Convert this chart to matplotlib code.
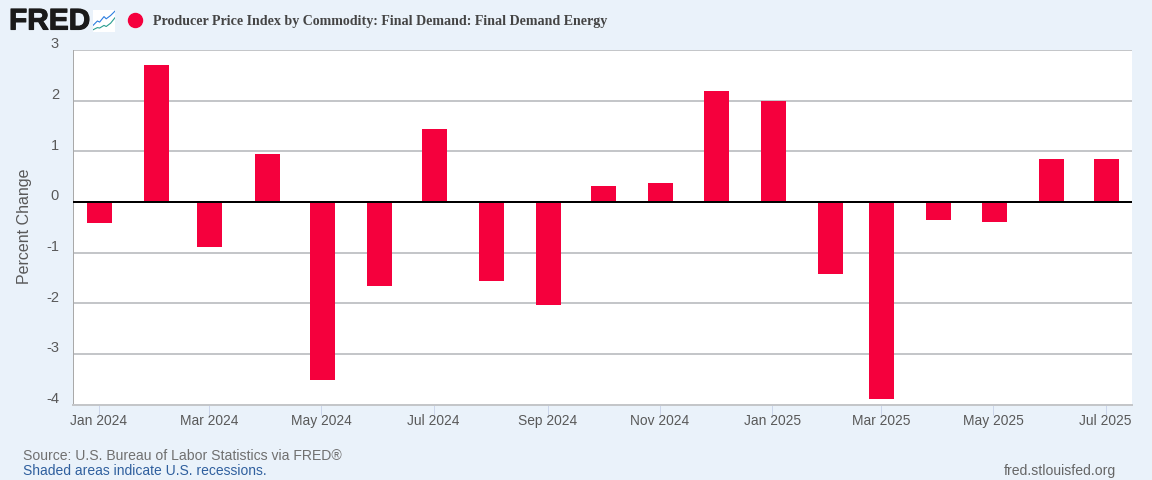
import matplotlib
matplotlib.use("Agg")
import matplotlib.pyplot as plt
import matplotlib.dates as mdates
import matplotlib.patheffects as pe
from matplotlib.transforms import ScaledTranslation
import pandas as pd

plt.rcParams['font.family'] = ['Liberation Sans', 'DejaVu Sans']

months = pd.date_range('2024-01-01', '2025-07-01', freq='MS')
values = [-0.41, 2.70, -0.89, 0.95, -3.51, -1.66, 1.44, -1.56, -2.03, 0.32,
          0.37, 2.19, 1.99, -1.42, -3.89, -0.36, -0.39, 0.85, 0.85]
y_ticks = [-4, -3, -2, -1, 0, 1, 2, 3]
x_tick_dates = pd.date_range('2024-01-01', '2025-07-01', freq='2MS')
title = 'Producer Price Index by Commodity: Final Demand: Final Demand Energy'

W, H = 1152, 480
BG = '#eaf2fa'
RED = '#f5003d'
TXT = '#595959'
PX = 0.72  # one pixel in points at dpi 100

fig = plt.figure(figsize=(W / 100, H / 100), dpi=100, facecolor=BG)
ax = fig.add_axes([73 / W, 1 - 404.5 / H, (1132 - 73) / W, (404.5 - 50) / H])

x = mdates.date2num(months)
px_per_day = (1105.5 - 98.5) / (x[-1] - x[0])
# bars sit about a pixel right of their ticks in the original
ax.bar(x + 1.0 / px_per_day, values, width=25 / px_per_day, color=RED, zorder=3)

ax.set_xlim(x[0] - 25.5 / px_per_day, x[0] + (1132 - 98.5) / px_per_day)
ax.set_ylim(-4, 3)

ax.set_yticks(y_ticks)
ax.set_yticklabels([str(v) for v in y_ticks], fontsize=10.5, color=TXT)
ax.tick_params(axis='y', length=0, pad=14 * PX)
up = ScaledTranslation(0, 5.5 / 100, fig.dpi_scale_trans)
for lab in ax.get_yticklabels():
    lab.set_verticalalignment('center')
    lab.set_transform(lab.get_transform() + up)
ax.grid(axis='y', color='#c4c6c9', lw=2 * PX, zorder=1)
ax.set_axisbelow(True)
ax.axhline(0, color='#000000', lw=2 * PX, zorder=4)

ax.set_xticks(mdates.date2num(x_tick_dates))
ax.set_xticklabels([d.strftime('%b %Y') for d in x_tick_dates], fontsize=9.9, color=TXT)
ax.tick_params(axis='x', length=10 * PX, width=PX, color='#ccd6eb', pad=7.5)
for lab in ax.get_xticklabels():
    lab.set_verticalalignment('baseline')

for side in ['top', 'right']:
    ax.spines[side].set_visible(False)
ax.spines['left'].set_color('#a9a9a9')
ax.spines['left'].set_linewidth(PX)
ax.spines['bottom'].set_color('#c4c6c9')
ax.spines['bottom'].set_linewidth(2 * PX)

fig.text(25 / W, 1 - 226.5 / H, 'Percent Change', rotation=90, fontsize=11.5, color=TXT,
         ha='center', va='center')

# header
fig.text(9 / W, 1 - 21.5 / H, 'FRED', fontsize=21.5, fontweight='bold', color='#1a1a1a',
         ha='left', va='center', family=['Liberation Sans'],
         path_effects=[pe.withStroke(linewidth=0.8, foreground='#1a1a1a')])
fig.patches.append(plt.Circle((135.5, H - 20.5), 7, color=RED, transform=None))
fig.text(153 / W, 1 - 21 / H, title, fontsize=10.07, fontweight='bold', color='#444444',
         ha='left', va='center', family=['Liberation Serif'])

# little chart icon next to the logo
icon = fig.add_axes([93 / W, 1 - 32 / H, 22 / W, 22 / H], facecolor='white')
icon.plot([0, 2, 3, 5, 6, 8, 10], [3, 5, 4.5, 7, 6, 7.5, 9.5], color='#2b7de0', lw=0.8)
icon.plot([0, 2, 3, 5, 6, 8, 10], [1, 2, 1.8, 3, 2.5, 4, 6.5], color='#2a9d8f', lw=0.8)
icon.set_xlim(0, 10)
icon.set_ylim(0, 10)
icon.set_xticks([])
icon.set_yticks([])
for s in icon.spines.values():
    s.set_visible(False)

# footer
fig.text(23 / W, 1 - 456 / H, 'Source: U.S. Bureau of Labor Statistics via FRED®', fontsize=10.1,
         color='#707070', ha='left', va='center')
fig.text(23 / W, 1 - 471 / H, 'Shaded areas indicate U.S. recessions.', fontsize=10.0,
         color='#2f5f9e', ha='left', va='center')
fig.text(1116 / W, 1 - 471 / H, 'fred.stlouisfed.org', fontsize=10.1, color='#666666',
         ha='right', va='center')

fig.savefig('out.png', dpi=100, facecolor=BG)
